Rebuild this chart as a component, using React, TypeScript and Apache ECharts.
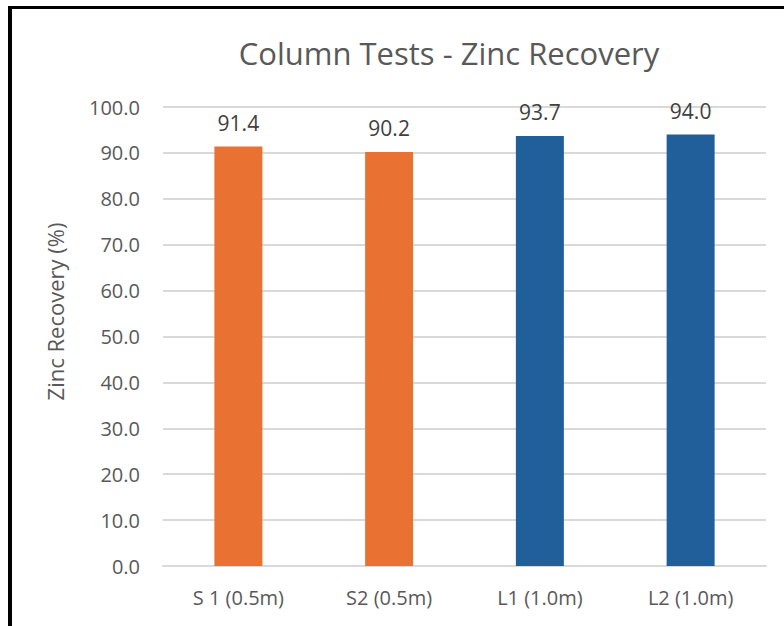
import React, { useEffect, useRef } from "react";
import * as echarts from "echarts";

const categories = ["S 1 (0.5m)", "S2 (0.5m)", "L1 (1.0m)", "L2 (1.0m)"];
const recovery = [91.4, 90.2, 93.7, 94.0];
const barColors = ["#E97132", "#E97132", "#215F9A", "#215F9A"];
const titleText = "Column Tests - Zinc Recovery";
const yAxisName = "Zinc Recovery (%)";

const FONT = "'Open Sans', 'Noto Sans', sans-serif";

export default function App() {
  const ref = useRef<HTMLDivElement>(null);
  useEffect(() => {
    document.body.style.margin = "0";
    const chart = echarts.init(ref.current!, null, { renderer: "svg" });
    chart.setOption({
      animation: false,
      backgroundColor: "#ffffff",
      title: {
        text: titleText,
        left: 444,
        top: 32,
        textAlign: "center",
        textStyle: { fontFamily: FONT, fontSize: 31, fontWeight: "normal", color: "#595959" },
      },
      grid: { left: 163, right: 18, top: 107, bottom: 60 },
      xAxis: {
        type: "category",
        data: categories,
        axisLine: { show: true, lineStyle: { color: "#D9D9D9", width: 2 } },
        axisTick: { show: false },
        axisLabel: { fontFamily: FONT, fontSize: 20, color: "#595959", margin: 21 },
      },
      yAxis: {
        type: "value",
        min: 0,
        max: 100,
        interval: 10,
        name: yAxisName,
        nameLocation: "middle",
        nameRotate: 90,
        nameGap: 97,
        nameTextStyle: { fontFamily: FONT, fontSize: 22, color: "#595959", padding: [0, 0, 0, 50] },
        axisLine: { show: false },
        axisTick: { show: false },
        splitLine: { lineStyle: { color: "#D9D9D9", width: 2 } },
        axisLabel: {
          fontFamily: FONT,
          fontSize: 20,
          color: "#595959",
          margin: 23,
          formatter: (v: number) => v.toFixed(1),
        },
      },
      series: [
        {
          type: "bar",
          barWidth: 48,
          data: recovery.map((v, i) => ({ value: v, itemStyle: { color: barColors[i] } })),
          label: {
            show: true,
            position: "top",
            distance: 13,
            fontFamily: FONT,
            fontSize: 21,
            color: "#404040",
            formatter: (p: any) => Number(p.value).toFixed(1),
          },
        },
      ],
      graphic: [
        { type: "line", shape: { x1: 8, y1: 7.5, x2: 784, y2: 7.5 }, style: { stroke: "#000000", lineWidth: 3 } },
        { type: "line", shape: { x1: 10, y1: 6, x2: 10, y2: 626 }, style: { stroke: "#000000", lineWidth: 4 } },
      ],
    });
    return () => chart.dispose();
  }, []);
  return <div ref={ref} style={{ position: "absolute", left: 0, top: 0, width: 784, height: 626 }} />;
}
